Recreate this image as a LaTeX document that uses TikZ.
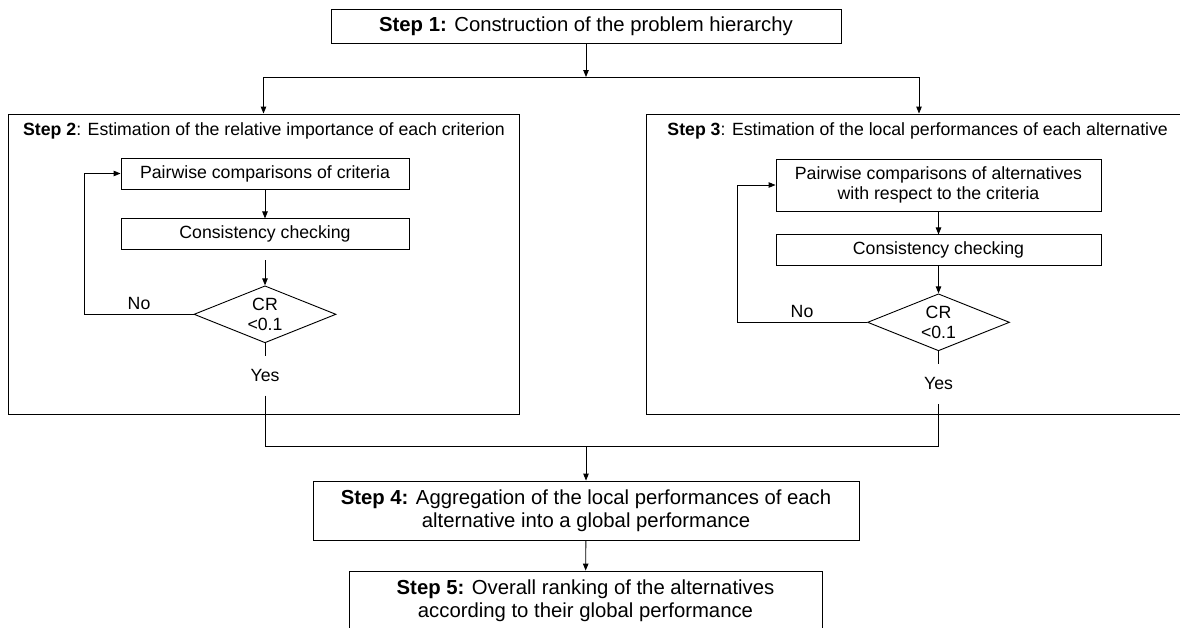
\documentclass[tikz,border=0pt]{standalone}
\usepackage{fontspec}
\setsansfont{Liberation Sans}
\tikzset{every picture/.style={/utils/exec={\sffamily}}}
\usetikzlibrary{positioning}
\usetikzlibrary{shapes.geometric,arrows.meta}
\newcommand{\mainsize}{\fontsize{20.3}{23}\selectfont}
\newcommand{\subsize}{\fontsize{17.7}{20.6}\selectfont}

\begin{document}
\begin{tikzpicture}[x=1pt, y=-1pt, line width=0.9pt, >={Triangle[length=7pt,width=5.5pt]},
  stepbox/.style={draw, align=center, font=\mainsize, inner sep=0pt, minimum height=59pt},
  stagebox/.style={draw, inner sep=0pt, minimum height=300pt},
  title/.style={anchor=base west, font=\subsize, inner sep=0pt},
  substep/.style={draw, align=center, font=\subsize, inner sep=0pt, minimum height=31pt},
  decision/.style={draw, diamond, aspect=2.5, inner sep=0pt, minimum width=142pt,
    minimum height=57pt, align=center, font=\subsize},
  answer/.style={font=\subsize, inner xsep=0pt, inner ysep=13pt},
  nolabel/.style={font=\subsize, above, inner sep=4pt}]
  \useasboundingbox (0,0) rectangle (1180,627);

  \node [stepbox, minimum width=510pt, minimum height=34pt] (s1) at (586,26)
    {\textbf{Step 1:} Construction of the problem hierarchy};
  \coordinate (split) at (586,77);

  \node [stagebox, minimum width=511pt] (s2) at (263.5,264) {};
  \node [title] (t2) at (22.7,135) {\textbf{Step 2}: Estimation of the relative importance of each criterion};
  \node [substep, minimum width=288pt] (p2) at (265,173.5) {Pairwise comparisons of criteria};
  \node [substep, minimum width=288pt, below=29pt of p2] (c2) {Consistency checking};
  \node [decision, below=35pt of c2] (d2) {CR\\<0.1};
  \node [answer, below=13pt of d2] (y2) {Yes};

  \node [stagebox, minimum width=546pt] (s3) at (919,264) {};
  \node [title] (t3) at (667,135) {\textbf{Step 3}: Estimation of the local performances of each alternative};
  \node [substep, minimum width=325pt, minimum height=52pt] (p3) at (938.5,185)
    {Pairwise comparisons of alternatives\\with respect to the criteria};
  \node [substep, minimum width=325pt, below=23pt of p3] (c3) {Consistency checking};
  \node [decision, below=27pt of c3] (d3) {CR\\<0.1};
  \node [answer, below=13pt of d3] (y3) {Yes};

  \coordinate (join) at (586,446);
  \node [stepbox, minimum width=546pt] (s4) at (586,510.5)
    {\textbf{Step 4:} Aggregation of the local performances of each\\alternative into a global performance};
  \node [stepbox, minimum width=473pt] (s5) at (585.5,600.5)
    {\textbf{Step 5:} Overall ranking of the alternatives\\according to their global performance};

  \draw [->] (s1) -- (split);
  \draw [->] (split) -| (s2.north);
  \draw [->] (split) -| (s3.north);

  \draw [->] (p2) -- (c2);
  \draw [->, shorten <=10pt] (c2) -- (d2);
  \draw [->] (d2.west) -- node [nolabel] (n2) {No} ++(-109pt,0) |- (p2.west);
  \draw (d2.south) -- (y2.north);

  \draw [->] (p3) -- (c3);
  \draw [->] (c3) -- (d3);
  \draw [->] (d3.west) -- node [nolabel] (n3) {No} ++(-130pt,0) |- (p3.west);
  \draw (d3.south) -- (y3.north);

  \draw (y2.south) -- (y2.south |- join) -- (y3.south |- join) -- (y3.south);
  \draw [->] (join) -- (s4);
  \draw [->] (s4) -- (s5);
\end{tikzpicture}
\end{document}
